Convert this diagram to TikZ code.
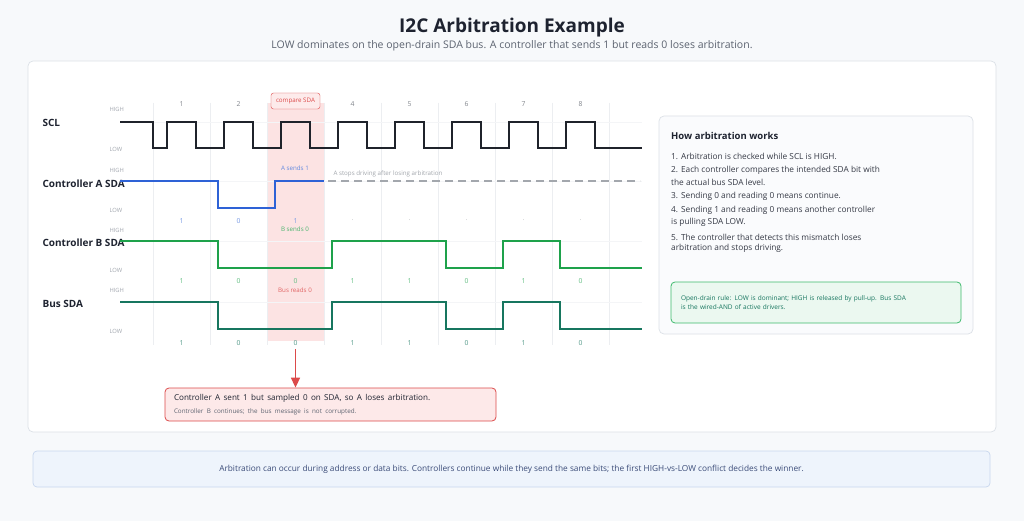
\documentclass[tikz,border=0pt]{standalone}
\usepackage{fontspec}
\setmainfont{Open Sans}
\usepackage{tikz}
\usetikzlibrary{arrows.meta,positioning}
\definecolor{pagebg}{HTML}{F7F9FB}
\definecolor{panelline}{HTML}{DCE1E7}
\definecolor{ink}{HTML}{1E2330}
\definecolor{subgray}{HTML}{5C6370}
\definecolor{lvlgray}{HTML}{A3A8B0}
\definecolor{gridgray}{HTML}{ECEEF1}
\definecolor{sclink}{HTML}{1F232B}
\definecolor{ablue}{HTML}{2E62D6}
\definecolor{bgreen}{HTML}{1EA24B}
\definecolor{busteal}{HTML}{17765F}
\definecolor{stopgray}{HTML}{A3A7AD}
\definecolor{alarm}{HTML}{DC4A4A}
\definecolor{alarmsoft}{HTML}{FCE3E3}
\definecolor{rulegreen}{HTML}{3DBA6C}
\definecolor{rulesoft}{HTML}{EBF8F0}
\definecolor{notesoft}{HTML}{EEF4FC}
\definecolor{noteline}{HTML}{C8D7EE}
\definecolor{notetext}{HTML}{3A4B78}

\begin{document}
\begin{tikzpicture}[x=1pt,y=-1pt,
 panel/.style={draw=panelline,fill=white,rounded corners=5pt,line width=0.7pt},
 lvl/.style={font=\fontsize{5.8}{6}\selectfont,text=lvlgray,anchor=west},
 signame/.style={font=\bfseries\fontsize{10}{12}\selectfont,text=ink,anchor=west},
 wave/.style={line width=2pt,line join=miter},
 bitlbl/.style={font=\fontsize{6.8}{7}\selectfont},
 tag/.style={font=\fontsize{6.2}{7}\selectfont},
 howline/.style={font=\fontsize{8.3}{10}\selectfont,text=ink!90,anchor=west,inner sep=0pt},
 arrow/.style={-{Triangle[width=9pt,length=10pt]},line width=1.6pt,draw=alarm}
]
\useasboundingbox[fill=pagebg] (0,0) rectangle (1024,521);

% title
\node[font=\bfseries\fontsize{19}{22}\selectfont,text=ink] (title) at (512,28) {I2C Arbitration Example};
\node[font=\fontsize{10.5}{12}\selectfont,text=subgray] (subtitle) at (512,46)
 {LOW dominates on the open-drain SDA bus. A controller that sends 1 but reads 0 loses arbitration.};

% panels
\node[panel,minimum width=968pt,minimum height=371pt] (mainpanel) at (512,246.5) {};
\node[panel,fill=pagebg!60!white,minimum width=314pt,minimum height=218pt] (howpanel) at (816,225) {};

% compare window
\fill[alarmsoft] (267,103) rectangle (324,341);

% grid
\foreach \k in {0,...,8}
  \draw[gridgray,line width=0.6pt] ({153+57*\k},103) -- ({153+57*\k},345);
\foreach \y in {122,181,241,302}
  \draw[gridgray!60,line width=0.5pt] (120,\y) -- (642,\y);

% bit numbers
\foreach \i in {1,2,4,5,6,7,8}
  \node[bitlbl,text=lvlgray!80!black] (bitno\i) at ({181.5+57*(\i-1)},104) {\i};
\node[tag,draw=alarm,fill=alarmsoft!70!white,text=alarm,rounded corners=2.5pt,minimum width=49pt,minimum height=16pt,inner sep=1pt] (compare) at (295.5,101) {compare SDA};

% signal names and levels
\node[signame] (sclname) at (39,123) {SCL};
\node[signame] (aname) at (39,184) {Controller A SDA};
\node[signame] (bname) at (39,243) {Controller B SDA};
\node[signame] (busname) at (39,304) {Bus SDA};
\foreach \hy/\ly in {109/149,170/210,230/270,290/331}{
  \node[lvl] at (106,\hy) {HIGH};
  \node[lvl] at (106,\ly) {LOW};
}

% waveforms
\draw[wave,sclink] (120,122) -- (153,122) -- (153,148)
  foreach \i in {0,...,7}{ -- ({167+57*\i},148) -- ({167+57*\i},122) -- ({196+57*\i},122) -- ({196+57*\i},148)}
  -- (642,148);
\draw[wave,ablue] (120,181) -- (218,181) -- (218,208) -- (275,208) -- (275,181) -- (324,181);
\draw[stopgray,line width=1.6pt,dash pattern=on 8pt off 5pt] (328,181) -- (640,181);
\draw[wave,bgreen] (120,241) -- (218,241) -- (218,268) -- (332,268) -- (332,241) -- (446,241)
  -- (446,268) -- (503,268) -- (503,241) -- (560,241) -- (560,268) -- (642,268);
\draw[wave,busteal] (120,302) -- (218,302) -- (218,329) -- (332,329) -- (332,302) -- (446,302)
  -- (446,329) -- (503,329) -- (503,302) -- (560,302) -- (560,329) -- (642,329);

% sampled bits
\foreach \i/\v in {1/1,2/0,3/1}
  \node[bitlbl,text=ablue!65] (abit\i) at ({181.5+57*(\i-1)},221) {\v};
\foreach \i in {4,...,8}
  \node[bitlbl,text=gridgray!80!black] (abit\i) at ({181.5+57*(\i-1)},221) {·};
\foreach \i/\v in {1/1,2/0,3/0,4/1,5/1,6/0,7/1,8/0}{
  \node[bitlbl,text=bgreen!70] (bbit\i) at ({181.5+57*(\i-1)},281) {\v};
  \node[bitlbl,text=busteal!75] (busbit\i) at ({181.5+57*(\i-1)},343) {\v};
}

% notes on the window
\node[tag,text=ablue!75] (asends) at (295,168) {A sends 1};
\node[tag,text=stopgray,anchor=west] (astops) at (330,174) {A stops driving after losing arbitration};
\node[tag,text=bgreen!80] (bsends) at (295,229) {B sends 0};
\node[tag,text=alarm!85] (busreads) at (295,290) {Bus reads 0};

% callout
\node[draw=alarm,fill=alarmsoft!80!white,rounded corners=4pt,line width=0.8pt,minimum width=331pt,minimum height=33pt,
  text width=313pt,align=left,inner sep=0pt] (callout) at (330.5,404.5)
  {{\fontsize{8.1}{10}\selectfont\color{ink}Controller A sent 1 but sampled 0 on SDA, so A loses arbitration.}\\[1pt]
   {\fontsize{6.3}{7}\selectfont\color{subgray}Controller B continues; the bus message is not corrupted.}};
\draw[arrow] (busbit3.south) -- (busbit3.south |- callout.north);

% how it works
\node[font=\bfseries\fontsize{9.5}{11}\selectfont,text=ink,anchor=west,inner sep=0pt] (howtitle) at (671,136) {How arbitration works};
\node[howline] (how1) at (671,156) {1. Arbitration is checked while SCL is HIGH.};
\node[howline] (how2) at (671,170) {2. Each controller compares the intended SDA bit with};
\node[howline] (how2b) at (671,182) {the actual bus SDA level.};
\node[howline] (how3) at (671,196) {3. Sending 0 and reading 0 means continue.};
\node[howline] (how4) at (671,210) {4. Sending 1 and reading 0 means another controller};
\node[howline] (how4b) at (671,222) {is pulling SDA LOW.};
\node[howline] (how5) at (671,237) {5. The controller that detects this mismatch loses};
\node[howline] (how5b) at (671,248) {arbitration and stops driving.};
\node[draw=rulegreen,fill=rulesoft,rounded corners=4pt,line width=0.8pt,minimum width=290pt,minimum height=41pt,
  text width=270pt,align=left,inner sep=0pt,font=\fontsize{6.5}{9}\selectfont,text=busteal] (rulebox) at (816,302.5)
  {Open-drain rule: LOW is dominant; HIGH is released by pull-up. Bus SDA\\is the wired-AND of active drivers.};

% footer note
\node[draw=noteline,fill=notesoft,rounded corners=4pt,line width=0.7pt,minimum width=957pt,minimum height=36pt,
  font=\fontsize{8.3}{9}\selectfont,text=notetext] (footnote) at (511.5,469)
  {Arbitration can occur during address or data bits. Controllers continue while they send the same bits; the first HIGH-vs-LOW conflict decides the winner.};
\end{tikzpicture}
\end{document}
